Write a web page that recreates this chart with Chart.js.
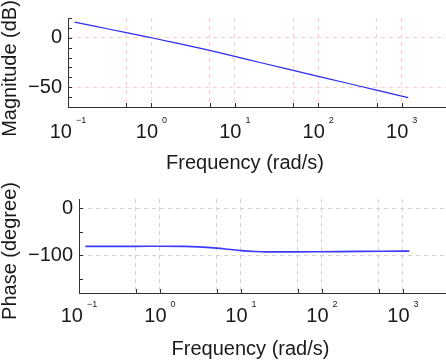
<!DOCTYPE html>
<html><head><meta charset="utf-8">
<script src="https://cdn.jsdelivr.net/npm/chart.js@4/dist/chart.umd.min.js"></script>
<style>
html,body{margin:0;padding:0;background:#fff;}
#wrap{position:relative;width:446px;height:362px;overflow:hidden;}
canvas{position:absolute;left:0;}
#c1{top:0}
#c2{top:181px}
</style></head><body>
<div id="wrap">
<canvas id="c1" width="446" height="181"></canvas>
<canvas id="c2" width="446" height="181"></canvas>
</div>
<script>
// ---- data ----
const freqMag     = [0.12, 0.2, 0.5, 1, 2, 5, 10, 20, 50, 100, 200, 500, 1000, 1200];
const magnitudeDb = [15.8, 12.0, 5.3, 0, -5.4, -12.8, -18.8, -25.0, -33.0, -39.0, -45.0, -53.0, -59.0, -60.6];
const freqPhase   = [0.12, 0.2, 0.5, 1, 2, 3, 5, 7, 10, 15, 20, 50, 100, 300, 1000, 1200];
const phaseDeg    = [-80.7, -80.7, -80.7, -80.6, -80.8, -81.8, -84.5, -87.0, -89.8, -91.8, -92.5, -92.6, -92.2, -91.5, -91.0, -90.9];

const decadeValues    = [0.1, 1, 10, 100, 1000];
const decadeExponents = ['\u22121', '0', '1', '2', '3'];
const minorXValues    = [0.5, 5, 50, 500];
const magYTicks       = [20, 10, 0, -10, -20, -30, -40, -50, -60, -70];
const magYLabelled    = [0, -50];
const phaseYTicks     = [0, -50, -100, -150];
const phaseYLabelled  = [0, -100];

const FONT = '"Liberation Sans", Arial, Helvetica, sans-serif';
const TEXT = '#1a1a1a';
const AXIS = '#333333';

const bodePlugin = {
  id: 'bode',
  afterDraw(chart, args, o) {
    const ctx = chart.ctx, ca = chart.chartArea;
    const xs = chart.scales.x, ys = chart.scales.y;
    ctx.save();
    ctx.setLineDash([]);
    ctx.strokeStyle = AXIS; ctx.lineWidth = 1;
    ctx.beginPath();
    decadeValues.concat(minorXValues).forEach(v => {
      const px = Math.round(xs.getPixelForValue(v)) + 0.5;
      if (px <= ca.left + 1 || px > ca.right) return;
      ctx.moveTo(px, ca.bottom); ctx.lineTo(px, ca.bottom - o.tickLen);
    });
    o.yTicks.forEach(v => {
      const py = Math.round(ys.getPixelForValue(v)) + 0.5;
      if (py < ca.top || py >= ca.bottom - 1) return;
      ctx.moveTo(ca.left, py); ctx.lineTo(ca.left + o.tickLen, py);
    });
    ctx.stroke();
    // x tick labels: 10 with superscript exponent
    ctx.fillStyle = TEXT; ctx.textBaseline = 'alphabetic'; ctx.textAlign = 'left';
    decadeValues.forEach((v, i) => {
      const px = xs.getPixelForValue(v);
      ctx.font = '20px ' + FONT;
      const w10 = ctx.measureText('10').width;
      ctx.font = '9px ' + FONT;
      const we = ctx.measureText(decadeExponents[i]).width;
      const gap = 4;
      const start = px - (w10 + gap + we) / 2;
      ctx.font = '20px ' + FONT;
      ctx.fillText('10', start, ca.bottom + o.labelGap);
      ctx.font = '9px ' + FONT;
      ctx.fillText(decadeExponents[i], start + w10 + gap, ca.bottom + o.expGap);
    });
    // axis titles
    ctx.font = '20px ' + FONT;
    ctx.textAlign = 'center';
    ctx.fillText(o.xTitle, (ca.left + ca.right) / 2 + o.xTitleShift, ca.bottom + o.xTitleGap);
    ctx.translate(o.yTitleX, (ca.top + ca.bottom) / 2 + o.yTitleShift);
    ctx.rotate(-Math.PI / 2);
    ctx.fillText(o.yTitle, 0, 0);
    ctx.restore();
  }
};

function makeChart(id, xs, ys, cfg) {
  return new Chart(document.getElementById(id), {
    type: 'line',
    data: { datasets: [{
      data: xs.map((x, i) => ({ x: x, y: ys[i] })),
      borderColor: cfg.lineColor, borderWidth: cfg.lineWidth,
      pointRadius: 0, fill: false, cubicInterpolationMode: 'monotone'
    }]},
    options: {
      responsive: false, animation: false, devicePixelRatio: 1,
      layout: { padding: { top: cfg.padTop, right: 0, left: 0, bottom: 0 } },
      plugins: {
        legend: { display: false }, tooltip: { enabled: false },
        bode: cfg.bode
      },
      scales: {
        x: {
          type: 'logarithmic', position: 'bottom', min: 0.1, max: 3400,
          afterBuildTicks: s => { s.ticks = decadeValues.concat(minorXValues).sort((a, b) => a - b).map(v => ({ value: v })); },
          afterFit: s => { s.height = cfg.xHeight; },
          ticks: { display: false },
          grid: { color: c => (c.tick && c.tick.value > 0.1001) ? cfg.gridColor : 'rgba(255,255,255,0)', drawTicks: false, lineWidth: 1 },
          border: { display: true, color: AXIS, width: 1, dash: [4, 4] }
        },
        y: {
          min: cfg.yMin, max: cfg.yMax,
          afterBuildTicks: s => { s.ticks = cfg.yTicks.map(v => ({ value: v })); },
          afterFit: s => { s.width = cfg.yWidth; },
          ticks: {
            autoSkip: false, padding: 6, color: TEXT, font: { family: FONT, size: 20 },
            callback: v => cfg.yLabelled.includes(v) ? (v < 0 ? '\u2212' + Math.abs(v) : String(v)) : ''
          },
          grid: { color: c => (c.tick && cfg.yLabelled.includes(c.tick.value)) ? cfg.gridColor : 'rgba(255,255,255,0)', drawTicks: false, lineWidth: 1 },
          border: { display: true, color: AXIS, width: 1, dash: [4, 4] }
        }
      }
    },
    plugins: [bodePlugin]
  });
}

makeChart('c1', freqMag, magnitudeDb, {
  lineColor: '#2b2bf0', lineWidth: 1.2, padTop: 13, xHeight: 74, yWidth: 68,
  yMin: -70, yMax: 20, yTicks: magYTicks, yLabelled: magYLabelled,
  gridColor: '#ffcccc',
  bode: { tickLen: 4, yTicks: magYTicks, labelGap: 31, expGap: 16, xTitle: 'Frequency (rad/s)', xTitleShift: -12, xTitleGap: 62,
          yTitle: 'Magnitude (dB)', yTitleX: 16, yTitleShift: 6 }
});
makeChart('c2', freqPhase, phaseDeg, {
  lineColor: '#3b3bff', lineWidth: 1.6, padTop: 18, xHeight: 69, yWidth: 79,
  yMin: -180, yMax: 20, yTicks: phaseYTicks, yLabelled: phaseYLabelled,
  gridColor: '#d4d4d4',
  bode: { tickLen: 4, yTicks: phaseYTicks, labelGap: 29, expGap: 14, xTitle: 'Frequency (rad/s)', xTitleShift: -12, xTitleGap: 62,
          yTitle: 'Phase (degree)', yTitleX: 16, yTitleShift: 5 }
});
</script>
</body></html>
